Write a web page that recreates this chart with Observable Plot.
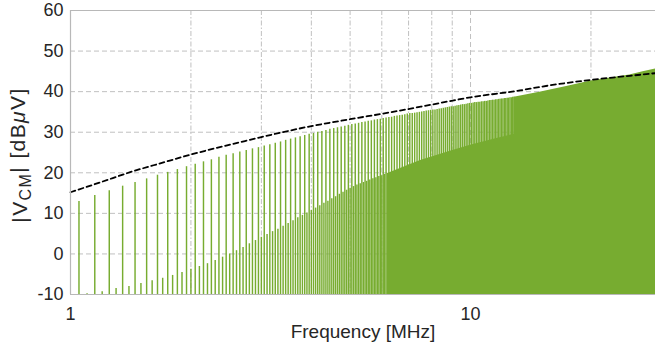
<!DOCTYPE html>
<html>
<head>
<meta charset="utf-8">
<script src="https://cdn.jsdelivr.net/npm/d3@7"></script>
<script src="https://cdn.jsdelivr.net/npm/@observablehq/plot@0.6"></script>
<style>
  html, body { margin: 0; padding: 0; background: white; overflow: hidden; }
</style>
</head>
<body>
<div id="chart"></div>
<script>
// ---- data ----
// odd harmonics (tall lines), 50 kHz fundamental, 1.05 MHz ... 12.85 MHz, step 0.1 MHz
const tallStart = 1.05;
const tallLevels = [
  12.9, 14.4, 15.6, 16.7, 17.6, 18.5, 19.4, 20.1, 20.8, 21.5,
  22.1, 22.7, 23.2, 23.8, 24.3, 24.7, 25.1, 25.5, 25.9, 26.2,
  26.6, 26.9, 27.3, 27.6, 28.0, 28.3, 28.6, 28.9, 29.2, 29.5,
  29.7, 30.0, 30.2, 30.4, 30.7, 30.9, 31.1, 31.3, 31.5, 31.7,
  31.9, 32.0, 32.2, 32.4, 32.5, 32.7, 32.8, 33.0, 33.1, 33.2,
  33.4, 33.5, 33.6, 33.7, 33.9, 34.0, 34.1, 34.2, 34.3, 34.5,
  34.6, 34.6, 34.7, 34.8, 34.9, 35.0, 35.1, 35.2, 35.3, 35.4,
  35.5, 35.5, 35.6, 35.7, 35.8, 35.9, 36.0, 36.1, 36.2, 36.3,
  36.3, 36.4, 36.5, 36.6, 36.7, 36.8, 36.8, 36.9, 37.0, 37.1,
  37.1, 37.2, 37.3, 37.3, 37.4, 37.4, 37.5, 37.5, 37.6, 37.6,
  37.7, 37.8, 37.8, 37.9, 37.9, 38.0, 38.0, 38.1, 38.1, 38.2,
  38.2, 38.3, 38.3, 38.4, 38.4, 38.5, 38.5, 38.6, 38.6
];
// even harmonics (short lines), 1.1 MHz ... 6.2 MHz, step 0.1 MHz
const shortStart = 1.1;
const shortLevels = [
  -9.8, -9.3, -8.5, -8.0, -7.3, -6.6, -6.0, -5.3, -4.6, -3.8,
  -3.1, -2.4, -1.6, -0.8, 0.0, 0.8, 1.6, 2.5, 3.3, 4.1,
  4.8, 5.5, 6.1, 6.8, 7.5, 8.2, 8.9, 9.5, 10.1, 10.7,
  11.3, 11.9, 12.5, 13.0, 13.6, 14.1, 14.7, 15.2, 15.7, 16.2,
  16.6, 17.0, 17.3, 17.6, 17.9, 18.2, 18.5, 18.8, 19.1, 19.3,
  19.6, 19.8
];
const harmonicStep = 0.1;
// region where the spectral lines merge into a solid fill
const solidFreq = [6.2, 6.3, 7.5, 8.9, 10, 11.5, 12.85, 12.85, 15, 17.5, 20, 25, 27, 29];
const solidTop  = [19.8, 20.1, 23.0, 25.3, 26.8, 28.3, 29.5, 38.6, 39.9, 41.3, 42.6, 44.1, 44.9, 45.6];
// dashed limit / envelope curve
const envFreq  = [1, 1.2, 1.41, 1.7, 2, 2.66, 3, 4, 5, 6.3, 8, 10, 13.3, 15, 20, 25, 29];
const envLevel = [15.2, 17.8, 20.15, 22.5, 24.5, 27.55, 28.8, 31.5, 33.2, 34.9, 36.8, 38.6, 40.3, 41.2, 42.9, 43.9, 44.55];
// axes
const yTicks = [-10, 0, 10, 20, 30, 40, 50, 60];
const yGrid = [0, 10, 20, 30, 40, 50];
const xTicks = [1, 10];
const xMinorGrid = [2, 3, 4, 5, 6, 7, 8, 9, 20];
const xMajorGrid = [10];

// ---- tables ----
const tall = tallLevels.map((v, i) => ({f: +(tallStart + harmonicStep * i).toFixed(2), v}));
const short = shortLevels.map((v, i) => ({f: +(shortStart + harmonicStep * i).toFixed(2), v}));
const solid = solidFreq.map((f, i) => ({f, v: solidTop[i]}));
const env = envFreq.map((f, i) => ({f, v: envLevel[i]}));

const green = "#77AC30";
const gridColor = "#c0c0c0";
const font = "'Liberation Sans', Arial, Helvetica, sans-serif";

const chart = Plot.plot({
  width: 655,
  height: 351,
  marginLeft: 70,
  marginRight: 0,
  marginTop: 10,
  marginBottom: 57,
  x: {type: "log", domain: [1, 29]},
  y: {domain: [-10, 60]},
  style: {fontFamily: font, fontSize: "18px", color: "#262626", background: "white"},
  marks: [
    Plot.ruleY(yGrid, {stroke: gridColor, strokeWidth: 1, strokeDasharray: "5,3"}),
    Plot.ruleX(xMinorGrid, {stroke: gridColor, strokeWidth: 1, strokeDasharray: "5,2,1.5,2"}),
    Plot.ruleX(xMajorGrid, {stroke: gridColor, strokeWidth: 1, strokeDasharray: "5,3"}),
    Plot.ruleX(tall, {x: "f", y1: -10, y2: "v", stroke: green, strokeWidth: 1.45}),
    Plot.ruleX(short, {x: "f", y1: -10, y2: "v", stroke: green, strokeWidth: 1.45}),
    Plot.areaY(solid, {x: "f", y1: -10, y2: "v", fill: green}),
    Plot.line(env, {x: "f", y: "v", stroke: "black", strokeWidth: 1.8, strokeDasharray: "5,3.5", curve: "monotone-x"}),
    Plot.ruleY([60], {stroke: "#b8b8b8", strokeWidth: 1.2}),
    Plot.ruleY([-10], {stroke: "#b8b8b8", strokeWidth: 1.2}),
    Plot.ruleX([1], {stroke: "#b8b8b8", strokeWidth: 1.2}),
    Plot.axisY({ticks: yTicks, tickSize: 0, tickPadding: 7, label: null, tickFormat: d => String(d), fontSize: 18}),
    Plot.axisX({ticks: xTicks, tickSize: 0, tickPadding: 13, label: null, tickFormat: d => String(d), fontSize: 18}),
    Plot.text(["Frequency [MHz]"], {frameAnchor: "bottom", dy: 43, fontSize: 19, fill: "#262626"})
  ]
});

const svg = d3.select(chart);
const lab = svg.append("text")
  .attr("transform", "translate(21,155) rotate(-90)")
  .attr("text-anchor", "middle")
  .attr("dominant-baseline", "middle")
  .attr("fill", "#262626")
  .style("font-family", font)
  .style("font-size", "21px")
  .style("letter-spacing", "1.4px");
lab.append("tspan").text("|V");
lab.append("tspan").attr("dy", "0.35em").style("font-size", "16px").text("CM");
lab.append("tspan").attr("dy", "-0.35em").text("| [dB");
lab.append("tspan").style("font-style", "italic").text("μ");
lab.append("tspan").text("V]");

document.getElementById("chart").appendChild(chart);
</script>
</body>
</html>
